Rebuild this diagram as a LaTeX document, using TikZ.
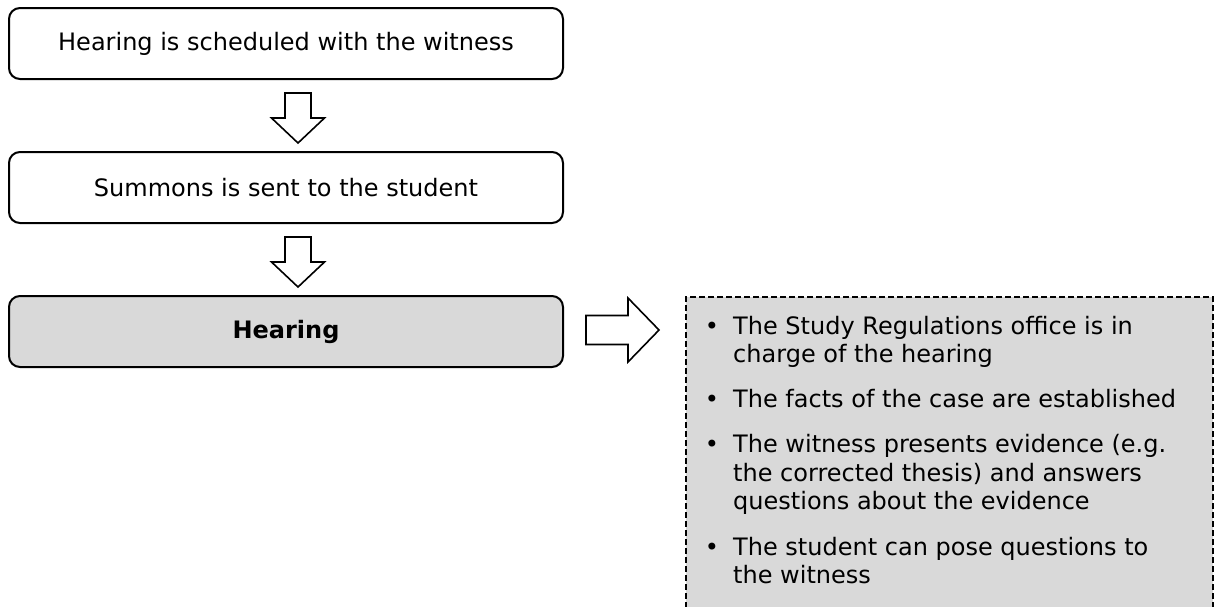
\documentclass[tikz,border=0pt]{standalone}
\usepackage{fontspec}
\setmainfont{DejaVu Sans}
\definecolor{boxgray}{HTML}{D9D9D9}
\tikzset{
  stepbox/.style={draw=black, line width=2pt, rounded corners=11pt, minimum width=554pt, minimum height=71pt, inner sep=0pt, font=\fontsize{24}{29}\selectfont},
  blockarrow/.style={draw=black, line width=1.6pt, fill=white, line join=miter},
  notebox/.style={draw=black, line width=2.2pt, dash pattern=on 6pt off 3pt, fill=boxgray, anchor=north west, minimum width=527pt, minimum height=360pt, inner sep=0pt},
  itemline/.style={anchor=base west, inner sep=0pt, font=\fontsize{24}{29}\selectfont},
  bul/.style={anchor=base, inner sep=0pt, font=\fontsize{24}{29}\selectfont}
}
\begin{document}
\begin{tikzpicture}[x=1pt,y=-1pt]
\useasboundingbox (0,0) rectangle (1214,606);
\clip (0,0) rectangle (1214,606);
\fill[white] (0,0) rectangle (1214,606);

\node[stepbox] (b1) at (286,43.5) {Hearing is scheduled with the witness};
\node[stepbox] (b2) at (286,187.5) {Summons is sent to the student};
\node[stepbox, fill=boxgray] (b3) at (286,331.5) {\bfseries Hearing};

% down arrow 1
\coordinate (a1) at (298,93);
\draw[blockarrow] (a1) ++(-13,0) -- ++(0,25) -- ++(-13.5,0) -- (298,143) -- (324.5,118) -- (311,118) -- (311,93) -- cycle;
% down arrow 2
\coordinate (a2) at (298,237);
\draw[blockarrow] (a2) ++(-13,0) -- ++(0,25) -- ++(-13.5,0) -- (298,287) -- (324.5,262) -- (311,262) -- (311,237) -- cycle;
% right arrow
\coordinate (a3) at (586,330);
\draw[blockarrow] (a3) ++(0,-14.5) -- (628,315.5) -- (628,298) -- (659,330) -- (628,362) -- (628,344.5) -- (586,344.5) -- cycle;

\node[notebox] (notes) at (685,296) {};

\node[bul] (p1) at (712,334) {•};
\node[itemline] (l1) at (733,334) {The Study Regulations office is in};
\node[itemline] (l2) at (733,362.5) {charge of the hearing};
\node[bul] (p2) at (712,407.7) {•};
\node[itemline] (l3) at (733,407.7) {The facts of the case are established};
\node[bul] (p3) at (712,452.9) {•};
\node[itemline] (l4) at (733,452.9) {The witness presents evidence (e.g.};
\node[itemline] (l5) at (733,481.4) {the corrected thesis) and answers};
\node[itemline] (l6) at (733,509.9) {questions about the evidence};
\node[bul] (p4) at (712,555.1) {•};
\node[itemline] (l7) at (733,555.1) {The student can pose questions to};
\node[itemline] (l8) at (733,583.6) {the witness};
\end{tikzpicture}
\end{document}
